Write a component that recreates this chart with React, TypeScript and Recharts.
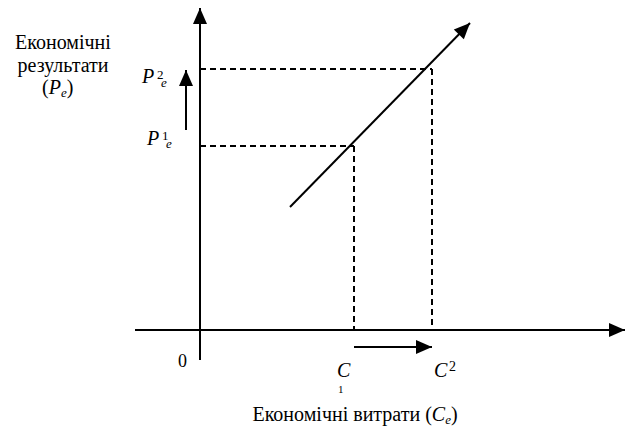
import { ComposedChart, Line, XAxis, YAxis, ReferenceLine, ReferenceDot } from "recharts";

// values (1 unit = 10px on both axes)
const costLevels = [15.4, 23.2]; // C1, C2
const resultLevels = [18.4, 26.1]; // P1e, P2e
const growthLine = [
  { x: 9, y: 12.3 },
  { x: 27, y: 30.7 },
];
const xAxisSpan = [-6.5, 42.5];
const yAxisSpan = [-3, 32.2];
const resultShift = [20, 26]; // small arrow beside the y axis
const resultShiftX = -1.4;
const costShift = [15.4, 23.2]; // small arrow under the x axis
const costShiftY = -1.7;
const yTitleLines = ["Економічні", "результати"];
const xTitle = "Економічні витрати (";

const serif = "'Liberation Serif', 'Times New Roman', serif";

const Head = ({ cx, cy, angle }: { cx: number; cy: number; angle: number }) => (
  <polygon points="0,0 -16,-7 -16,7" transform={`translate(${cx},${cy}) rotate(${angle})`} fill="#000" />
);

const Tag = ({ cx, cy, children }: any) => (
  <g transform={`translate(${cx},${cy})`} fontFamily={serif} fill="#000">
    {children}
  </g>
);

const growthAngle =
  (-Math.atan2(growthLine[1].y - growthLine[0].y, growthLine[1].x - growthLine[0].x) * 180) / Math.PI;

export default function App() {
  const dash = "6 4";
  return (
    <div style={{ position: "absolute", left: 0, top: 0, background: "#fff" }}>
      <ComposedChart width={630} height={426} margin={{ top: 0, right: 0, bottom: 0, left: 0 }}>
        <XAxis type="number" dataKey="x" domain={[-20, 43]} hide allowDataOverflow />
        <YAxis type="number" domain={[-9.6, 33]} hide allowDataOverflow />

        {/* axes */}
        <ReferenceLine
          segment={[{ x: xAxisSpan[0], y: 0 }, { x: xAxisSpan[1], y: 0 }]}
          stroke="#000"
          strokeWidth={2}
          ifOverflow="visible"
        />
        <ReferenceLine
          segment={[{ x: 0, y: yAxisSpan[0] }, { x: 0, y: yAxisSpan[1] }]}
          stroke="#000"
          strokeWidth={2}
          ifOverflow="visible"
        />
        <ReferenceDot x={xAxisSpan[1]} y={0} r={0} ifOverflow="visible" shape={(p: any) => <Head cx={p.cx} cy={p.cy} angle={0} />} />
        <ReferenceDot x={0} y={yAxisSpan[1]} r={0} ifOverflow="visible" shape={(p: any) => <Head cx={p.cx} cy={p.cy} angle={-90} />} />

        {/* dashed guides */}
        {costLevels.map((c, i) => (
          <ReferenceLine
            key={`h${i}`}
            segment={[{ x: 0, y: resultLevels[i] }, { x: c, y: resultLevels[i] }]}
            stroke="#000"
            strokeWidth={2}
            strokeDasharray={dash}
            ifOverflow="visible"
          />
        ))}
        {costLevels.map((c, i) => (
          <ReferenceLine
            key={`v${i}`}
            segment={[{ x: c, y: resultLevels[i] }, { x: c, y: 0 }]}
            stroke="#000"
            strokeWidth={2}
            strokeDasharray={dash}
            ifOverflow="visible"
          />
        ))}

        {/* shift arrows */}
        <ReferenceLine
          segment={[{ x: resultShiftX, y: resultShift[0] }, { x: resultShiftX, y: resultShift[1] }]}
          stroke="#000"
          strokeWidth={2}
          ifOverflow="visible"
        />
        <ReferenceDot x={resultShiftX} y={resultShift[1]} r={0} ifOverflow="visible" shape={(p: any) => <Head cx={p.cx} cy={p.cy} angle={-90} />} />
        <ReferenceLine
          segment={[{ x: costShift[0], y: costShiftY }, { x: costShift[1], y: costShiftY }]}
          stroke="#000"
          strokeWidth={2}
          ifOverflow="visible"
        />
        <ReferenceDot x={costShift[1]} y={costShiftY} r={0} ifOverflow="visible" shape={(p: any) => <Head cx={p.cx} cy={p.cy} angle={0} />} />

        {/* main line */}
        <Line
          data={growthLine}
          dataKey="y"
          type="linear"
          stroke="#000"
          strokeWidth={2}
          dot={false}
          activeDot={false}
          isAnimationActive={false}
        />
        <ReferenceDot x={growthLine[1].x} y={growthLine[1].y} r={0} ifOverflow="visible" shape={(p: any) => <Head cx={p.cx} cy={p.cy} angle={growthAngle} />} />

        {/* y title */}
        <ReferenceDot
          x={-13.7}
          y={28.1}
          r={0}
          ifOverflow="visible"
          shape={(p: any) => (
            <Tag cx={p.cx} cy={p.cy}>
              {yTitleLines.map((t, i) => (
                <text key={t} x={0} y={i * 23} textAnchor="middle" fontSize={20}>
                  {t}
                </text>
              ))}
              <text x={-21} y={45} fontSize={20}>
                (<tspan fontStyle="italic">P</tspan>
                <tspan fontStyle="italic" fontSize={13} dy={3}>e</tspan>
                <tspan dy={-3}>)</tspan>
              </text>
            </Tag>
          )}
        />

        {/* P labels */}
        <ReferenceDot
          x={0}
          y={resultLevels[1]}
          r={0}
          ifOverflow="visible"
          shape={(p: any) => (
            <Tag cx={p.cx} cy={p.cy}>
              <text x={-58} y={14} fontSize={20} fontStyle="italic">P</text>
              <text x={-43} y={10} fontSize={13}>2</text>
              <text x={-39} y={18} fontSize={13} fontStyle="italic">e</text>
            </Tag>
          )}
        />
        <ReferenceDot
          x={0}
          y={resultLevels[0]}
          r={0}
          ifOverflow="visible"
          shape={(p: any) => (
            <Tag cx={p.cx} cy={p.cy}>
              <text x={-53} y={-1} fontSize={20} fontStyle="italic">P</text>
              <text x={-38} y={-6} fontSize={13}>1</text>
              <text x={-34} y={2} fontSize={13} fontStyle="italic">e</text>
            </Tag>
          )}
        />

        {/* origin and C labels */}
        <ReferenceDot
          x={0}
          y={0}
          r={0}
          ifOverflow="visible"
          shape={(p: any) => (
            <Tag cx={p.cx} cy={p.cy}>
              <text x={-22} y={37} fontSize={18}>0</text>
            </Tag>
          )}
        />
        <ReferenceDot
          x={costLevels[0]}
          y={0}
          r={0}
          ifOverflow="visible"
          shape={(p: any) => (
            <Tag cx={p.cx} cy={p.cy}>
              <text x={-17} y={47} fontSize={20} fontStyle="italic">C</text>
              <text x={-16} y={63} fontSize={11}>1</text>
            </Tag>
          )}
        />
        <ReferenceDot
          x={costLevels[1]}
          y={0}
          r={0}
          ifOverflow="visible"
          shape={(p: any) => (
            <Tag cx={p.cx} cy={p.cy}>
              <text x={2} y={47} fontSize={20} fontStyle="italic">C</text>
              <text x={17} y={41} fontSize={14}>2</text>
            </Tag>
          )}
        />

        {/* x title */}
        <ReferenceDot
          x={15.5}
          y={-9.1}
          r={0}
          ifOverflow="visible"
          shape={(p: any) => (
            <Tag cx={p.cx} cy={p.cy}>
              <text x={0} y={0} textAnchor="middle" fontSize={20}>
                {xTitle}
                <tspan fontStyle="italic">C</tspan>
                <tspan fontStyle="italic" fontSize={13} dy={3}>e</tspan>
                <tspan dy={-3}>)</tspan>
              </text>
            </Tag>
          )}
        />
      </ComposedChart>
    </div>
  );
}
